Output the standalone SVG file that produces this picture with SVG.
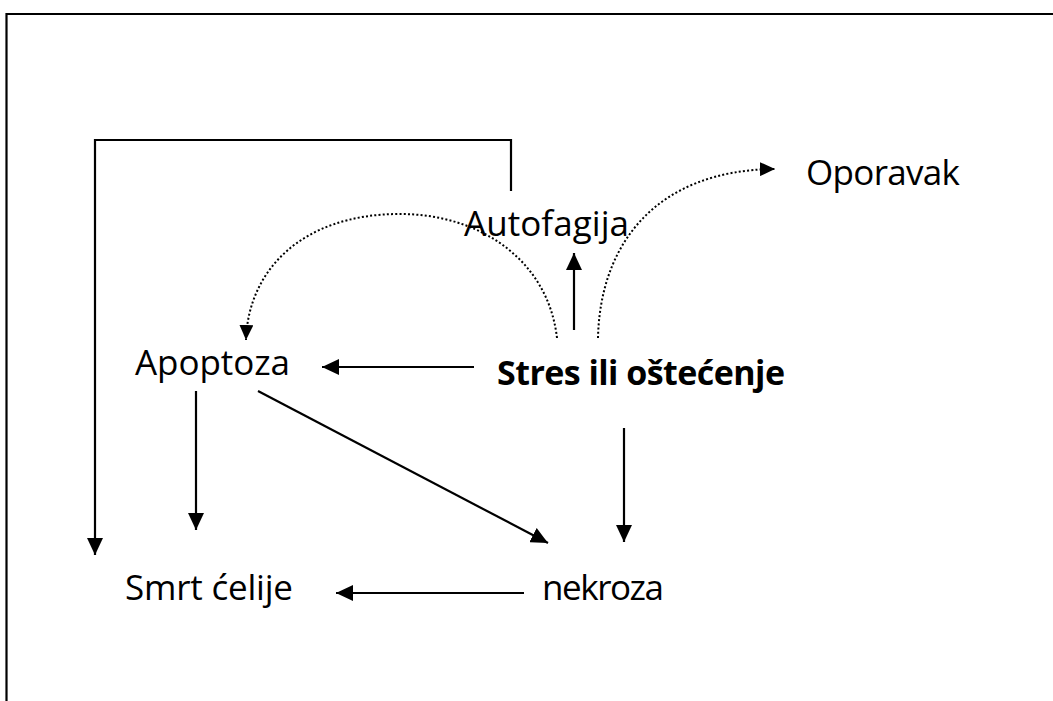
<svg xmlns="http://www.w3.org/2000/svg" width="1053" height="701" viewBox="0 0 1053 701">
<style>
.lbl{font-family:"Open Sans","Liberation Sans",sans-serif;font-size:35px;fill:#000}
.bold{font-weight:bold;font-size:34px}
.ln{fill:none;stroke:#000;stroke-width:2.2}
.dot{fill:none;stroke:#000;stroke-width:2;stroke-dasharray:2 2.2}
</style>
<defs>
<marker id="ah" markerUnits="userSpaceOnUse" markerWidth="17" markerHeight="16" refX="17" refY="8" orient="auto">
<path d="M0,0 L17,8 L0,16 z" fill="#000"/>
</marker>
<marker id="ahd" markerUnits="userSpaceOnUse" markerWidth="15" markerHeight="14" refX="15" refY="7" orient="auto">
<path d="M0,0 L15,7 L0,14 z" fill="#000"/>
</marker>
</defs>
<rect width="1053" height="701" fill="#fff"/>
<path d="M6.5,701 V14 H1053" class="ln"/>
<g id="connectors">
<path d="M511,191 V140 H95 V555" class="ln" marker-end="url(#ah)"/>
<line x1="574" y1="330" x2="574" y2="253" class="ln" marker-end="url(#ah)"/>
<line x1="474" y1="367" x2="322" y2="367" class="ln" marker-end="url(#ah)"/>
<line x1="624" y1="428" x2="624" y2="542" class="ln" marker-end="url(#ah)"/>
<line x1="196" y1="391" x2="196" y2="530" class="ln" marker-end="url(#ah)"/>
<line x1="258" y1="391" x2="548" y2="543" class="ln" marker-end="url(#ah)"/>
<line x1="524" y1="593" x2="336" y2="593" class="ln" marker-end="url(#ah)"/>
<path d="M557,338 C548,260 480,214 400,214 C300,214 248,272 246,340" class="dot" marker-end="url(#ahd)"/>
<path d="M598,338 C600,245 655,170 775,169" class="dot" marker-end="url(#ahd)"/>
</g>
<g id="autofagija"><text class="lbl" x="464" y="236" textLength="165">Autofagija</text></g>
<g id="oporavak"><text class="lbl" x="806" y="185" textLength="154">Oporavak</text></g>
<g id="apoptoza"><text class="lbl" x="135" y="375" textLength="155">Apoptoza</text></g>
<g id="stres"><text class="lbl bold" x="497" y="385" textLength="288">Stres ili oštećenje</text></g>
<g id="smrt"><text class="lbl" x="125" y="600" textLength="168">Smrt ćelije</text></g>
<g id="nekroza"><text class="lbl" x="542" y="600" textLength="122">nekroza</text></g>
</svg>
